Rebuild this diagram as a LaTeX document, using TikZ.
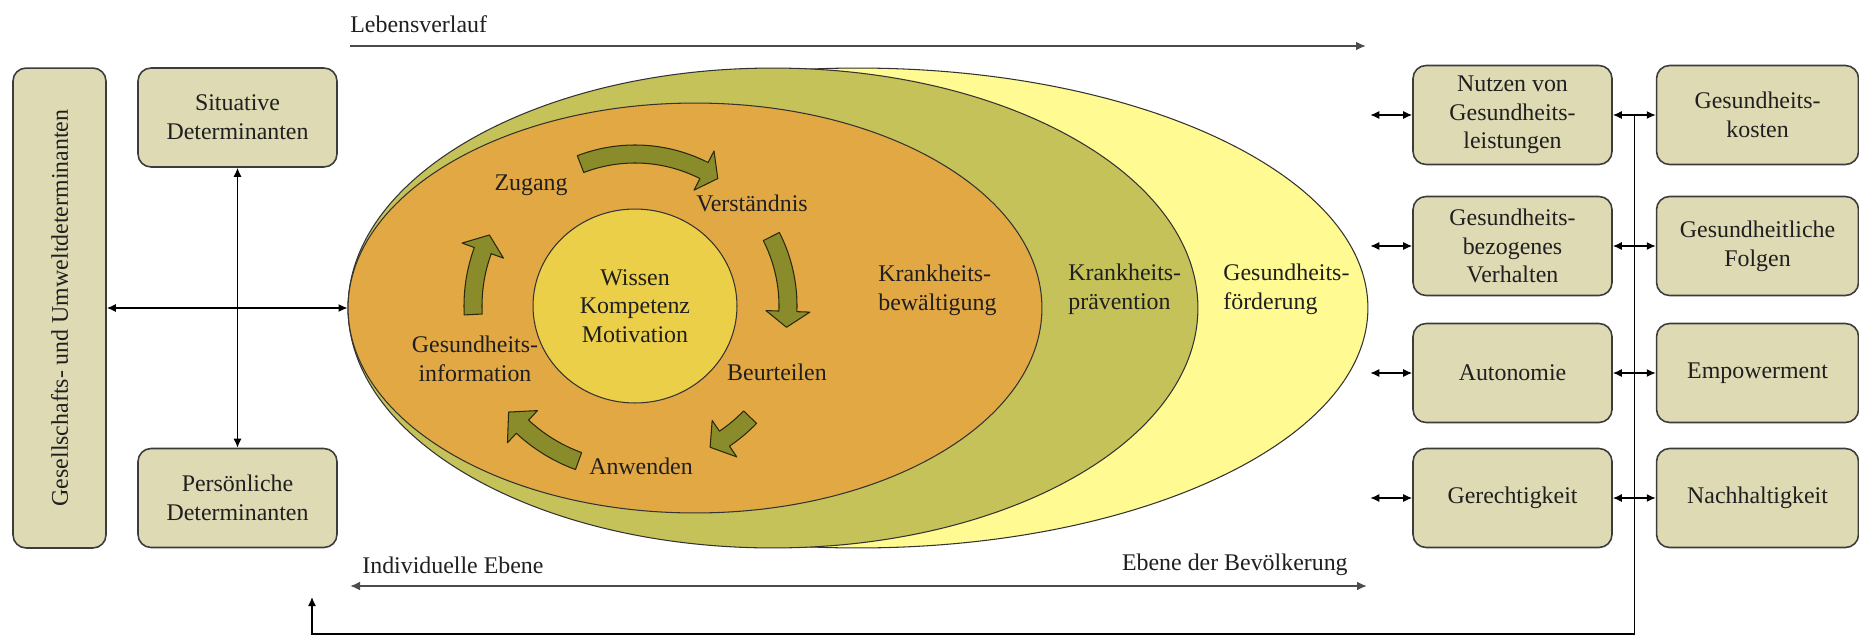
\documentclass[tikz,border=0pt]{standalone}
\usepackage{fontspec}
\setmainfont{Liberation Serif}
\usepackage{xcolor}
\usetikzlibrary{arrows.meta,shapes.geometric,positioning,calc}

\definecolor{boxfill}{HTML}{DEDAB4}
\definecolor{boxline}{HTML}{3C3C3C}
\definecolor{foerdfill}{HTML}{FFFA91}
\definecolor{praevfill}{HTML}{C5C25A}
\definecolor{bewfill}{HTML}{E2A844}
\definecolor{kernfill}{HTML}{ECCF48}
\definecolor{pfeilfill}{HTML}{8A8C2C}

\begin{document}
\begin{tikzpicture}[
      x = 0.02cm, y = -0.02cm,
      every node/.style = {font=\fontsize{13.6}{16.3}\selectfont, text=black!88, align=center, inner sep=0pt},
      box/.style = {draw=boxline, fill=boxfill, line width=0.9pt, rounded corners=0.26cm,
                    minimum width=3.98cm, minimum height=1.98cm},
      zone/.style = {ellipse, draw=black!80, line width=0.6pt},
      link/.style = {{Latex[length=1.8mm,width=1.6mm]}-{Latex[length=1.8mm,width=1.6mm]}, line width=0.8pt},
      axis/.style = {line width=1.2pt, draw=black!70},
      cyclearrow/.style = {fill=pfeilfill, draw=black!70!pfeilfill, line width=0.6pt, line join=round}
      ]
      \useasboundingbox (0,0) rectangle (1859,636);

      % Determinanten links
      \node[box, minimum width=1.86cm, minimum height=9.6cm] (gesell) at (59.5,308) {};
      \node[rotate=90] (gesellText) at (gesell.center) {Gesellschafts- und Umweltdeterminanten};
      \node[box] (situativ) at (237.5,117.5) {Situative\\Determinanten};
      \node[box] (persoenlich) at (237.5,498) {Persönliche\\Determinanten};

      % Ellipsen
      \node[zone, fill=foerdfill, minimum width=20.4cm, minimum height=9.6cm] (foerderung) at (858,308) {};
      \node[zone, fill=praevfill, minimum width=17cm, minimum height=9.6cm] (praevention) at (773,308) {};
      \node[zone, fill=bewfill, minimum width=13.88cm, minimum height=8.2cm] (bewaeltigung) at (695,308) {};
      \node[zone, fill=kernfill, minimum width=4.08cm, minimum height=3.88cm] (kern) at (635,306) {Wissen\\Kompetenz\\Motivation};

      \node[anchor=west, align=left] (lblBew) at (878,290) {Krankheits-\\bewältigung};
      \node[anchor=west, align=left] (lblPraev) at (1068,289) {Krankheits-\\prävention};
      \node[anchor=west, align=left] (lblFoerd) at (1223,289) {Gesundheits-\\förderung};

      % Kreislauf
      \node (zugang) at (531,185) {Zugang};
      \node (verstaendnis) at (752,203) {Verständnis};
      \node (beurteilen) at (777,372) {Beurteilen};
      \node (anwenden) at (641,466) {Anwenden};
      \node (information) at (475,359) {Gesundheits-\\information};

      \begin{scope}[shift={(kern.center)}]
      \foreach \r/\a/\b/\c in {152/-111/-63/-57, 153/-27/2/8, 160/44/56/62, 165/110/133/140, 162/177/200/206}
            \draw[cyclearrow] (\a:\r+9) arc[start angle=\a, end angle=\b, radius=\r+9]
                  -- (\b:\r+22) -- (\c:\r) -- (\b:\r-22) -- (\b:\r-9)
                  arc[start angle=\b, end angle=\a, radius=\r-9] -- cycle;
      \end{scope}

      % Achsen
      \coordinate (lebenStart) at (350,46);
      \coordinate (lebenEnd) at (1366,46);
      \node[anchor=west] (leben) at (350,24) {Lebensverlauf};
      \draw[axis, -{Latex[length=2mm,width=1.8mm]}] (lebenStart) -- (lebenEnd);

      \coordinate (ebeneL) at (350,586);
      \coordinate (ebeneR) at (1367,586);
      \draw[axis, {Latex[length=2mm,width=1.8mm]}-{Latex[length=2mm,width=1.8mm]}] (ebeneL) -- (ebeneR);
      \node[anchor=west] (individuell) at (362,565) {Individuelle Ebene};
      \node[anchor=east] (bevoelkerung) at (1348,565) {Ebene der Bevölkerung};

      \draw[link] (gesell) -- (foerderung.west);
      \draw[link] (situativ) -- (persoenlich);

      % Ergebnisse rechts
      \node[box] (nutzen) at (1512.5,115) {Nutzen von\\Gesundheits-\\leistungen};
      \node[box] (verhalten) at (1512.5,246) {Gesundheits-\\bezogenes\\Verhalten};
      \node[box] (autonomie) at (1512.5,373) {Autonomie};
      \node[box] (gerecht) at (1512.5,498) {Gerechtigkeit};
      \node[box, minimum width=4.04cm, right=0.86cm of nutzen] (kosten) {Gesundheits-\\kosten};
      \node[box, minimum width=4.04cm, right=0.86cm of verhalten] (folgen) {Gesundheitliche\\Folgen};
      \node[box, minimum width=4.04cm, right=0.86cm of autonomie] (empower) {Empowerment};
      \node[box, minimum width=4.04cm, right=0.86cm of gerecht] (nachhalt) {Nachhaltigkeit};

      \foreach \n in {nutzen, verhalten, autonomie, gerecht} {
            \coordinate (stub-\n) at ([xshift=-0.84cm]\n.west);
            \draw[link] (stub-\n) -- (\n.west);
      }
      \foreach \a/\b in {nutzen/kosten, verhalten/folgen, autonomie/empower, gerecht/nachhalt}
            \draw[link] (\a) -- (\b);

      % Rueckkopplung
      \coordinate (knoten) at ($(nutzen.east)!0.5!(kosten.west)$);
      \coordinate (fuss) at (knoten |- 0,634);
      \coordinate (rueck) at (312,597);
      \draw[line width=0.8pt, -{Latex[length=1.8mm,width=1.6mm]}] (knoten) -- (fuss) -| (rueck);
    \end{tikzpicture}
\end{document}
